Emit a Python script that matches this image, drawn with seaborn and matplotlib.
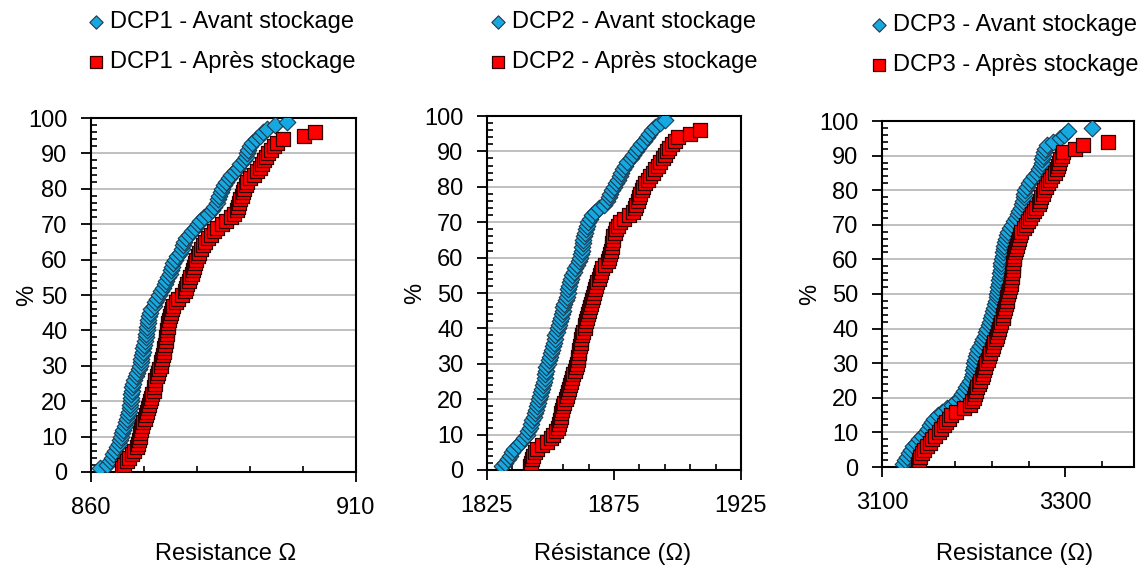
import matplotlib
matplotlib.use("Agg")
import matplotlib.pyplot as plt
import seaborn as sns
import pandas as pd
from matplotlib.ticker import MultipleLocator

# cumulative percentage (rank) of each measured part
pct = [1, 2, 3, 4, 5, 6, 7, 8, 9, 10, 11, 12, 13, 14, 15, 16, 17, 18, 19, 20,
       21, 22, 23, 24, 25, 26, 27, 28, 29, 30, 31, 32, 33, 34, 35, 36, 37, 38, 39, 40,
       41, 42, 43, 44, 45, 46, 47, 48, 49, 50, 51, 52, 53, 54, 55, 56, 57, 58, 59, 60,
       61, 62, 63, 64, 65, 66, 67, 68, 69, 70, 71, 72, 73, 74, 75, 76, 77, 78, 79, 80,
       81, 82, 83, 84, 85, 86, 87, 88, 89, 90, 91, 92, 93, 94, 95, 96, 97, 98, 99]

# resistance values (ohm), sorted
dcp1_avant = [861.7, 863.0, 863.5, 863.9, 864.2, 864.5, 864.9, 865.2, 865.4, 865.6,
              865.8, 866.1, 866.4, 866.6, 866.8, 867.0, 867.1, 867.3, 867.4, 867.5,
              867.6, 867.6, 867.7, 867.8, 868.0, 868.2, 868.5, 868.7, 869.0, 869.2,
              869.4, 869.5, 869.7, 869.8, 869.9, 870.0, 870.2, 870.3, 870.4, 870.5,
              870.6, 870.7, 870.8, 871.0, 871.1, 871.4, 871.8, 872.1, 872.4, 872.8,
              873.2, 873.6, 873.9, 874.2, 874.6, 874.9, 875.0, 875.2, 875.5, 875.8,
              876.2, 876.7, 877.1, 877.3, 877.6, 878.0, 878.5, 879.1, 879.6, 880.1,
              880.6, 881.4, 882.1, 882.8, 883.3, 883.7, 884.0, 884.2, 884.5, 884.7,
              885.1, 885.5, 886.0, 886.5, 887.1, 887.7, 888.2, 888.8, 889.2, 889.5,
              889.7, 890.0, 890.4, 891.1, 891.8, 892.4, 893.3, 894.7, 896.9]
dcp1_apres = [865.8, 866.3, 866.7, 867.2, 867.7, 868.2, 868.6, 868.9, 869.0, 869.2,
              869.3, 869.5, 869.6, 869.9, 870.1, 870.4, 870.6, 870.7, 870.9, 871.1,
              871.3, 871.5, 871.8, 871.9, 872.0, 872.1, 872.4, 872.7, 872.9, 873.2,
              873.3, 873.4, 873.6, 873.7, 873.8, 874.0, 874.1, 874.2, 874.3, 874.4,
              874.5, 874.6, 874.7, 874.9, 875.0, 875.2, 875.5, 876.0, 876.5, 877.1,
              877.7, 877.9, 878.2, 878.4, 878.7, 879.0, 879.2, 879.4, 879.6, 879.9,
              880.2, 880.4, 880.7, 881.1, 881.5, 882.0, 882.6, 883.2, 883.8, 884.7,
              885.5, 886.4, 887.0, 887.5, 887.7, 887.9, 888.1, 888.4, 888.7, 888.9,
              889.2, 889.5, 890.0, 890.7, 891.4, 891.8, 892.2, 892.6, 893.0, 893.4,
              893.9, 894.5, 895.1, 896.2, 900.1, 902.3]

dcp2_avant = [1830.8, 1832.0, 1833.1, 1834.0, 1834.9, 1835.8, 1837.2, 1838.5, 1839.6, 1840.6,
              1841.2, 1841.8, 1842.4, 1842.9, 1843.4, 1843.9, 1844.4, 1844.8, 1845.0, 1845.3,
              1845.7, 1846.2, 1846.7, 1847.1, 1847.5, 1847.8, 1848.0, 1848.2, 1848.4, 1848.9,
              1849.3, 1849.8, 1850.3, 1850.7, 1851.1, 1851.4, 1851.6, 1851.9, 1852.4, 1852.9,
              1853.3, 1853.8, 1854.3, 1854.5, 1854.8, 1855.0, 1855.5, 1856.0, 1856.4, 1856.8,
              1857.0, 1857.2, 1857.5, 1857.9, 1858.6, 1859.2, 1859.8, 1860.5, 1861.1, 1861.5,
              1861.9, 1862.3, 1862.5, 1862.7, 1862.9, 1863.1, 1863.4, 1863.8, 1864.2, 1864.8,
              1865.5, 1866.2, 1867.5, 1869.2, 1871.0, 1872.1, 1872.9, 1873.6, 1874.3, 1875.1,
              1875.8, 1876.5, 1877.2, 1877.9, 1878.5, 1879.2, 1880.2, 1881.5, 1882.6, 1883.5,
              1884.5, 1885.6, 1886.8, 1888.0, 1888.8, 1889.8, 1891.1, 1893.0, 1895.1]
dcp2_apres = [1841.9, 1842.4, 1842.8, 1843.3, 1843.9, 1844.5, 1846.5, 1848.6, 1850.0, 1851.1,
              1852.1, 1852.8, 1853.4, 1853.8, 1854.0, 1854.3, 1854.6, 1855.0, 1855.5, 1856.0,
              1856.5, 1857.0, 1857.3, 1857.7, 1858.1, 1858.6, 1859.0, 1859.5, 1859.9, 1860.3,
              1860.7, 1861.0, 1861.2, 1861.4, 1861.6, 1861.9, 1862.1, 1862.4, 1862.9, 1863.4,
              1863.7, 1863.9, 1864.2, 1864.6, 1865.1, 1865.6, 1866.0, 1866.4, 1866.9, 1867.3,
              1867.6, 1868.1, 1868.5, 1868.9, 1869.3, 1869.7, 1870.2, 1871.4, 1872.6, 1873.0,
              1873.4, 1873.9, 1874.2, 1874.4, 1874.6, 1874.8, 1875.3, 1875.8, 1876.5, 1877.4,
              1879.0, 1880.8, 1882.6, 1883.2, 1883.8, 1884.3, 1884.8, 1885.4, 1885.9, 1886.5,
              1887.3, 1888.2, 1889.1, 1890.2, 1891.2, 1892.2, 1893.3, 1894.4, 1895.1, 1895.8,
              1896.8, 1897.9, 1899.0, 1900.2, 1904.9, 1908.9]

dcp3_avant = [3122.9, 3125.0, 3127.3, 3129.6, 3131.8, 3134.1, 3137.0, 3139.9, 3143.8, 3147.5,
              3150.3, 3152.8, 3154.6, 3157.0, 3161.1, 3166.0, 3171.0, 3176.2, 3180.7, 3185.0,
              3187.5, 3189.6, 3191.8, 3194.0, 3196.1, 3197.7, 3199.2, 3199.8, 3200.3, 3200.8,
              3201.3, 3202.6, 3203.8, 3205.0, 3207.0, 3208.9, 3210.7, 3212.3, 3213.8, 3215.0,
              3216.3, 3217.5, 3218.5, 3219.6, 3220.7, 3222.0, 3223.3, 3224.5, 3225.4, 3226.0,
              3226.5, 3227.0, 3227.5, 3228.0, 3228.6, 3229.0, 3229.5, 3230.0, 3230.4, 3231.0,
              3231.6, 3232.2, 3232.8, 3233.4, 3234.4, 3235.5, 3236.6, 3237.6, 3240.0, 3242.3,
              3244.2, 3246.1, 3248.0, 3249.7, 3251.3, 3253.0, 3254.2, 3254.9, 3255.5, 3256.5,
              3258.4, 3260.3, 3262.7, 3265.7, 3268.8, 3271.0, 3273.3, 3274.5, 3275.1, 3275.6,
              3276.5, 3277.5, 3280.5, 3287.0, 3293.9, 3298.5, 3303.0, 3329.1]
dcp3_apres = [3139.5, 3140.3, 3141.1, 3143.5, 3146.2, 3149.0, 3152.0, 3154.8, 3158.3, 3162.0,
              3164.8, 3167.5, 3170.0, 3172.8, 3175.7, 3181.0, 3189.0, 3195.5, 3198.5, 3200.0,
              3201.5, 3202.8, 3204.0, 3205.5, 3207.1, 3208.6, 3210.1, 3211.3, 3212.6, 3213.9,
              3215.4, 3216.9, 3218.4, 3219.9, 3221.4, 3222.6, 3223.9, 3225.2, 3226.5, 3227.8,
              3229.0, 3230.3, 3231.5, 3232.5, 3233.5, 3234.5, 3235.4, 3236.0, 3236.8, 3237.4,
              3238.3, 3239.3, 3240.3, 3241.2, 3241.7, 3242.1, 3242.6, 3243.0, 3243.5, 3244.0,
              3244.5, 3245.0, 3246.0, 3247.1, 3248.3, 3249.6, 3250.8, 3252.1, 3254.5, 3256.8,
              3259.0, 3261.3, 3263.5, 3266.0, 3268.5, 3271.0, 3272.5, 3273.8, 3275.3, 3276.8,
              3278.7, 3281.0, 3283.3, 3286.0, 3288.6, 3290.5, 3292.3, 3293.3, 3294.5, 3296.0,
              3297.5, 3310.3, 3319.3, 3346.6]

names = ["DCP1", "DCP2", "DCP3"]
xlabels = ["Resistance \u03a9", "R\u00e9sistance (\u03a9)", "Resistance (\u03a9)"]
xlims = [(860, 910), (1825, 1925), (3100, 3375)]
major_ticks = [(50, 10), (50, 25), (200, 100)]   # (step, offset)
minor_ticks = [(10, 0), (10, 5), (40, 20)]

sns.set_style("ticks")
plt.rcParams["font.family"] = ["Liberation Sans", "DejaVu Sans"]
plt.rcParams["text.color"] = "black"
plt.rcParams["axes.labelcolor"] = "black"

BLUE = "#16A9E1"
RED = "#FF0000"
FS = 17

fig = plt.figure(figsize=(11.44, 5.68), dpi=100)
W, H = 1144, 568

# axes boxes in pixels: left, top, right, bottom
boxes = [(91, 118, 356, 472), (487, 116, 741, 470), (882, 121, 1134, 467)]
legend_pos = [(89, 11), (491, 11), (872, 14)]
ylabel_x = [-0.2, -0.24, -0.242]
xlabel_xy = [(0.509, -0.2), (0.496, -0.206), (0.528, -0.22)]

series = [(dcp1_avant, dcp1_apres), (dcp2_avant, dcp2_apres), (dcp3_avant, dcp3_apres)]

for i, (avant, apres) in enumerate(series):
    l, t, r, b = boxes[i]
    ax = fig.add_axes([l / W, 1 - b / H, (r - l) / W, (b - t) / H])

    df_av = pd.DataFrame({"R": avant, "pct": pct[:len(avant)]})
    df_ap = pd.DataFrame({"R": apres, "pct": pct[:len(apres)]})
    sns.scatterplot(data=df_av, x="R", y="pct", marker="D", s=72, color=BLUE,
                    edgecolor="#1B3A50", linewidth=0.8, ax=ax, zorder=3,
                    label=f"{names[i]} - Avant stockage")
    sns.scatterplot(data=df_ap, x="R", y="pct", marker="s", s=100, color=RED,
                    edgecolor="#300000", linewidth=0.9, ax=ax, zorder=4,
                    label=f"{names[i]} - Apr\u00e8s stockage")

    ax.set_xlim(*xlims[i])
    ax.set_ylim(0, 100)
    ax.xaxis.set_major_locator(MultipleLocator(*major_ticks[i]))
    ax.xaxis.set_minor_locator(MultipleLocator(*minor_ticks[i]))
    ax.yaxis.set_major_locator(MultipleLocator(10))
    ax.yaxis.set_minor_locator(MultipleLocator(2))
    ax.tick_params(which="major", direction="out", length=7, width=1.3,
                   labelsize=FS, colors="black")
    ax.tick_params(which="minor", direction="in", length=4.5, width=1.2,
                   colors="black")
    ax.tick_params(axis="x", which="major", pad=11)
    ax.tick_params(axis="y", which="major", pad=10)
    ax.yaxis.grid(True, which="major", color="#BFBFBF", linewidth=1.4)
    ax.set_axisbelow(True)
    for sp in ax.spines.values():
        sp.set_visible(True)
        sp.set_color("black")
        sp.set_linewidth(1.5)

    ax.set_xlabel(xlabels[i], fontsize=FS)
    ax.set_ylabel("%", fontsize=FS)
    ax.xaxis.set_label_coords(*xlabel_xy[i])
    ax.yaxis.set_label_coords(ylabel_x[i], 0.5)

    lx, ly = legend_pos[i]
    ax.legend(loc="upper left", bbox_to_anchor=(lx / W, 1 - ly / H),
              bbox_transform=fig.transFigure, frameon=False, fontsize=FS,
              handlelength=0.6, handletextpad=0.3, borderpad=0,
              borderaxespad=0, labelspacing=0.76, scatterpoints=1,
              markerscale=0.8)

fig.savefig("out.png", dpi=100)
